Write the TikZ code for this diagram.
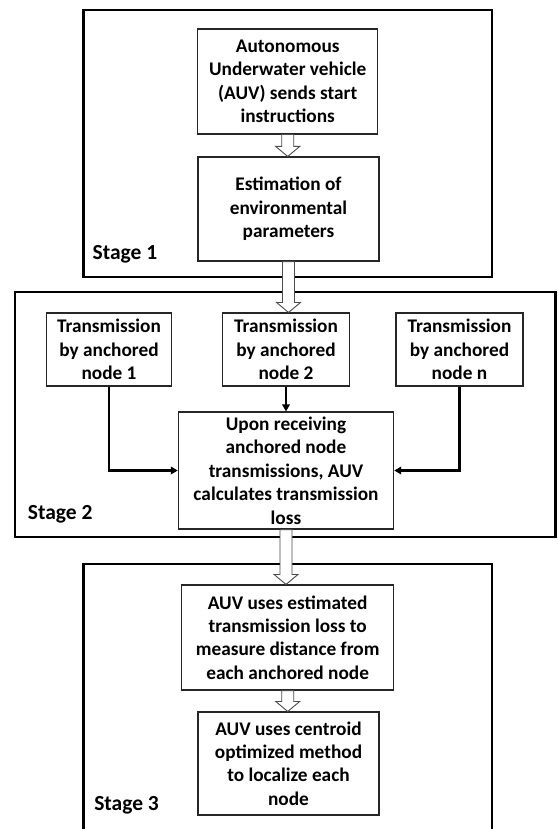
\documentclass[tikz,border=0pt]{standalone}
\usepackage{fontspec}
\setmainfont{Carlito}
\usetikzlibrary{calc,arrows.meta}

\tikzset{
  stagebox/.style={draw=black, line width=2.8pt},
  stepnode/.style={draw=black!85, line width=1.1pt, fill=white, align=center, inner sep=0pt,
    font=\fontsize{19.3}{23.4}\selectfont\bfseries},
  stagelabel/.style={anchor=west, inner sep=0pt, font=\fontsize{21.5}{24}\selectfont\bfseries},
  conn/.style={draw=black, line width=2.3pt, -{Triangle[length=7pt,width=7.5pt]}},
  hollowarrow/.style={fill=white, draw=black!70, line width=0.9pt, line join=miter}
}

% hollow block arrow from the bottom of one node to the top of another
\newcommand{\blockarrow}[2]{%
  \filldraw[hollowarrow] let \p1=(#1.south), \p2=(#2.north) in
    (\x1-6pt,\y1) -- (\x1+6pt,\y1) -- (\x1+6pt,\y2+10pt) -- (\x1+12pt,\y2+10pt)
    -- (\x1,\y2) -- (\x1-12pt,\y2+10pt) -- (\x1-6pt,\y2+10pt) -- cycle;}

\begin{document}
\begin{tikzpicture}[x=1pt, y=-1pt]
  \clip (0,0) rectangle (557,829);
  \fill[white] (0,0) rectangle (557,829);

  % stage frames
  \draw[stagebox] (83.5,10) rectangle (492,277);
  \draw[stagebox] (15,292) rectangle (555.6,537);
  \draw[stagebox] (83.5,564) rectangle (492,840);

  \node[stagelabel] (s1) at (92.4,254) {Stage 1};
  \node[stagelabel] (s2) at (27.7,514) {Stage 2};
  \node[stagelabel] (s3) at (94.1,805) {Stage 3};

  % stage 1
  \node[stepnode, minimum width=179.7pt, minimum height=105pt] (start) at (287.7,81.5)
    {Autonomous\\Underwater vehicle\\(AUV) sends start\\instructions};
  \node[stepnode, minimum width=181pt, minimum height=104pt] (env) at (288.5,209)
    {Estimation of\\environmental\\parameters};

  % stage 2
  \node[stepnode, minimum width=125.7pt, minimum height=73pt] (t1) at (109,349.5)
    {Transmission\\by anchored\\node 1};
  \node[stepnode, minimum width=126.5pt, minimum height=73pt] (t2) at (286,349.5)
    {Transmission\\by anchored\\node 2};
  \node[stepnode, minimum width=127pt, minimum height=73pt] (tn) at (459.5,349.5)
    {Transmission\\by anchored\\node n};
  \node[stepnode, minimum width=215.3pt, minimum height=117pt] (loss) at (286,470.5)
    {Upon receiving\\anchored node\\transmissions, AUV\\calculates transmission\\loss};

  % stage 3
  \node[stepnode, minimum width=211.7pt, minimum height=105pt] (dist) at (287.7,637.5)
    {AUV uses estimated\\transmission loss to\\measure distance from\\each anchored node};
  \node[stepnode, minimum width=181pt, minimum height=103pt] (loc) at (288.5,763.5)
    {AUV uses centroid\\optimized method\\to localize each\\node};

  % connectors
  \draw[conn] (t2.south) -- (loss.north);
  \draw[conn] (t1.south) |- (loss.west);
  \draw[conn] (tn.south) |- (loss.east);

  \blockarrow{start}{env}
  \blockarrow{env}{t2}
  \blockarrow{loss}{dist}
  \blockarrow{dist}{loc}
\end{tikzpicture}
\end{document}
